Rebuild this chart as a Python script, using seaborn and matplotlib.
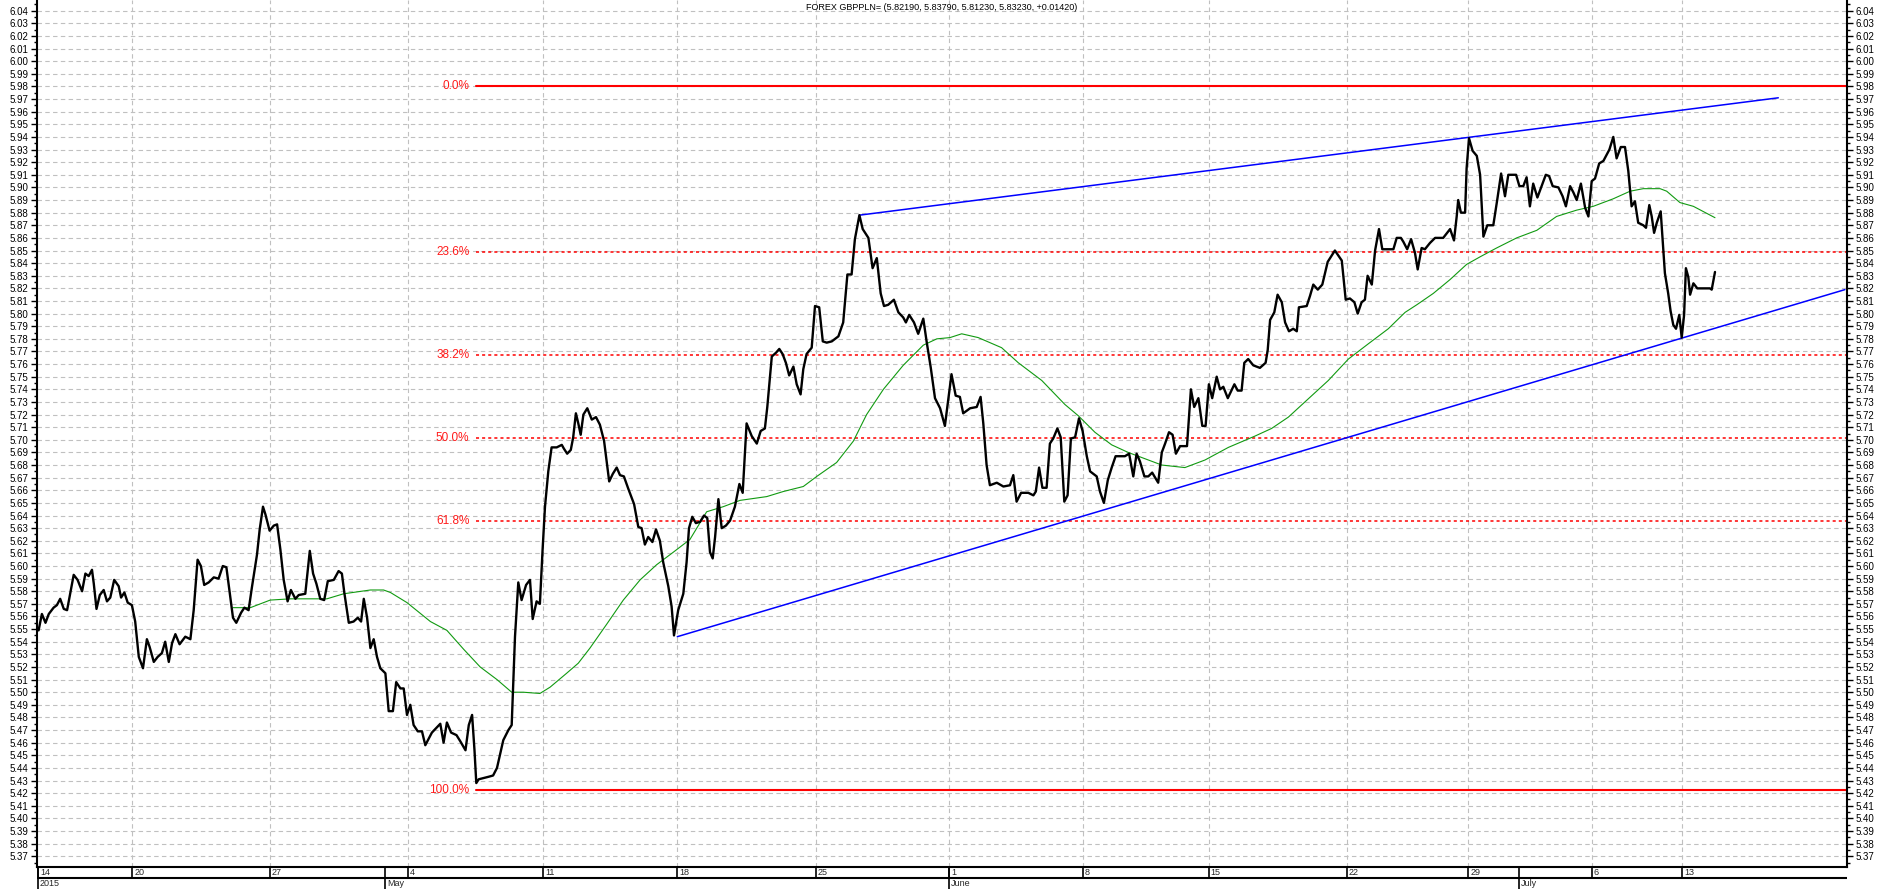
import numpy as np
import pandas as pd
import seaborn as sns
import matplotlib.pyplot as plt
from matplotlib.ticker import MultipleLocator, FormatStrFormatter
from matplotlib.transforms import offset_copy

title = 'FOREX GBPPLN= (5.82190, 5.83790, 5.81230, 5.83230, +0.01420)'

price_bar = [
    0.2, 1.3, 2.5, 3.6, 5.2, 6.3, 7.4, 8.6, 9.7, 10.8, 11.9, 13.2, 14.7, 15.8, 16.9, 18.0,
    18.6, 19.5, 20.6, 21.9, 23.0, 24.1, 25.4, 26.9, 27.7, 28.8, 29.9, 31.3, 32.4, 33.6, 35.0,
    36.3, 37.2, 38.6, 39.9, 41.3, 42.4, 43.6, 44.7, 45.8, 47.2, 49.1, 50.8, 51.9, 53.2, 54.3,
    55.4, 56.9, 58.6, 60.2, 61.6, 62.8, 63.9, 65.0, 66.1, 67.7, 68.8, 70.2, 71.3, 73.0, 73.9,
    75.0, 75.8, 77.2, 78.6, 79.7, 80.8, 81.9, 83.2, 84.3, 85.8, 86.9, 89.1, 90.6, 91.7, 92.8,
    94.1, 95.4, 96.6, 98.6, 100.2, 101.3, 102.1, 103.6, 105.2, 106.6, 107.7, 108.6, 109.7,
    110.8, 111.9, 113.0, 114.1, 115.8, 116.9, 118.3, 119.4, 120.8, 121.9, 123.0, 124.1, 125.2,
    126.6, 128.0, 129.1, 131.3, 134.1, 135.2, 136.3, 137.7, 139.5, 140.8, 142.5, 143.6, 144.7,
    145.5, 146.1, 146.9, 148.6, 150.2, 151.7, 153.0,
    155.1, 156.8, 157.9, 158.4, 159.0, 160.1, 161.2, 162.7, 164.0, 164.9, 166.2, 167.3, 168.2,
    169.0, 170.1, 171.2, 172.9, 174.6, 175.3, 176.4, 177.6, 178.4, 179.3, 180.1, 180.9, 181.8,
    183.1, 184.6, 186.0, 187.3, 188.7, 189.6, 190.4, 191.6, 192.9, 194.0, 195.3, 196.8, 198.7,
    200.1, 201.2, 202.3, 203.4, 204.8, 206.0, 207.3, 208.4, 210.1, 211.2, 212.0, 213.4, 215.1,
    216.2, 217.0, 218.1, 219.3, 220.7, 222.0, 223.1, 224.0, 224.9, 225.7, 226.8, 227.9, 229.3,
    230.7, 232.3, 233.8, 234.9, 236.2, 237.9, 239.6, 240.9, 242.3, 243.1, 244.6, 246.0, 247.1,
    248.2, 249.3, 250.4, 251.8, 252.9, 254.2, 255.1, 256.2, 257.9, 259.0, 260.4, 261.6, 262.9,
    264.6, 266.8, 268.4, 269.8, 271.2, 272.3, 273.8, 274.9, 276.8, 278.2, 279.6, 280.9, 282.0,
    283.4, 285.3, 286.8, 288.4, 289.3, 290.4, 292.0, 293.4, 295.1, 296.2, 297.6, 299.0, 300.7,
    302.3, 303.1,
    304.5, 305.9, 307.3, 308.4, 310.7, 312.9, 314.2, 315.1, 316.2, 317.3, 319.6, 321.8, 324.0,
    325.1, 326.2, 327.7, 330.1, 331.8, 332.6, 333.7, 334.8, 336.2, 337.3, 338.4, 339.8, 340.9,
    342.1, 343.2, 344.3, 345.7, 347.0, 348.2, 349.6, 350.7, 352.9, 354.0, 355.3, 356.6, 357.9,
    359.2, 362.3, 363.7, 365.1, 366.2, 367.3, 368.8, 370.1, 371.4, 373.4, 374.6, 375.7, 377.0,
    378.2, 379.3, 380.7, 383.0, 384.3, 385.4, 386.8, 388.1, 389.2, 390.3, 391.4, 392.9, 394.0,
    395.1, 396.6, 398.8, 399.9, 401.2, 402.1, 403.4, 405.1, 407.3, 409.2, 409.9, 410.7, 412.1,
    413.2, 414.6, 415.7, 417.0, 418.4, 419.6, 420.3, 422.9, 424.0, 425.1, 426.6, 428.1, 429.9,
    432.3, 434.6, 435.9, 437.3, 438.8, 439.9, 441.2, 442.3, 443.2, 444.6, 445.7, 447.0, 448.1,
    450.1, 451.8, 452.9, 454.3,
    455.1, 456.4, 457.7, 459.0, 459.9, 461.2, 462.3, 464.0, 465.7, 468.4, 470.7, 472.0, 472.9,
    473.4, 474.3, 475.7, 476.2, 477.0, 478.2, 479.6, 480.7, 481.8, 483.1, 485.1, 486.4, 487.7,
    489.0, 490.1, 492.7, 493.8, 495.1, 496.2, 497.3, 498.4, 499.8, 501.2, 502.6, 503.7, 504.9,
    506.8, 508.2, 509.3, 510.7, 511.8, 512.9, 514.3, 515.7, 516.8, 517.9, 519.0, 520.4, 521.8,
    523.8, 525.1, 526.2, 527.6, 529.0, 530.1, 531.2, 532.3, 533.4, 535.1, 536.0, 537.1, 537.9,
    538.7, 539.6, 540.9, 541.6, 542.3, 543.4, 544.2, 545.1, 546.0, 547.1, 547.9, 548.7, 549.3,
    550.1, 550.7, 551.8, 553.1, 557.3, 557.9, 559.0,
]
price = [
    5.549, 5.562, 5.555, 5.562, 5.567, 5.569, 5.574, 5.566, 5.565, 5.579, 5.593, 5.589, 5.580,
    5.594, 5.592, 5.597, 5.586, 5.566, 5.577, 5.581, 5.572, 5.575, 5.589, 5.584, 5.575, 5.579,
    5.571, 5.569, 5.556, 5.528, 5.519, 5.542, 5.536, 5.524, 5.528, 5.531, 5.540, 5.524, 5.539,
    5.546, 5.538, 5.544, 5.542, 5.565, 5.605, 5.600, 5.585, 5.587, 5.591, 5.590, 5.600, 5.599,
    5.579, 5.559, 5.555, 5.563, 5.567, 5.565, 5.583, 5.609, 5.629, 5.647, 5.641, 5.628, 5.632,
    5.633, 5.613, 5.589, 5.572, 5.581, 5.574, 5.577, 5.578, 5.612, 5.594, 5.586, 5.574, 5.573,
    5.588, 5.589, 5.596, 5.594, 5.579, 5.555, 5.556, 5.559, 5.556, 5.574, 5.559, 5.535, 5.542,
    5.528, 5.519, 5.515, 5.485, 5.485, 5.508, 5.503, 5.503, 5.482, 5.490, 5.474, 5.469, 5.469,
    5.458, 5.468, 5.475, 5.460, 5.476, 5.468, 5.466, 5.461, 5.454, 5.474, 5.482, 5.454, 5.428,
    5.431, 5.432, 5.433, 5.434, 5.440,
    5.462, 5.470, 5.474, 5.506, 5.544, 5.587, 5.573, 5.585, 5.589, 5.558, 5.572, 5.570, 5.613,
    5.647, 5.675, 5.694, 5.694, 5.696, 5.693, 5.689, 5.692, 5.702, 5.721, 5.713, 5.704, 5.720,
    5.725, 5.716, 5.718, 5.712, 5.699, 5.682, 5.667, 5.673, 5.678, 5.672, 5.671, 5.661, 5.649,
    5.631, 5.630, 5.617, 5.623, 5.619, 5.629, 5.620, 5.603, 5.584, 5.568, 5.545, 5.565, 5.578,
    5.603, 5.630, 5.639, 5.634, 5.635, 5.640, 5.638, 5.611, 5.606, 5.623, 5.653, 5.630, 5.632,
    5.636, 5.647, 5.665, 5.658, 5.713, 5.703, 5.697, 5.707, 5.709, 5.726, 5.766, 5.769, 5.772,
    5.768, 5.761, 5.751, 5.758, 5.744, 5.736, 5.756, 5.768, 5.773, 5.806, 5.805, 5.778, 5.777,
    5.778, 5.782, 5.793, 5.831, 5.831, 5.859, 5.878, 5.867, 5.860, 5.836, 5.844, 5.816, 5.806,
    5.807, 5.811, 5.801, 5.797, 5.793, 5.799, 5.793, 5.784, 5.796, 5.778, 5.757, 5.733, 5.725,
    5.711, 5.726,
    5.752, 5.735, 5.734, 5.721, 5.725, 5.726, 5.734, 5.713, 5.680, 5.664, 5.666, 5.663, 5.664,
    5.672, 5.651, 5.658, 5.658, 5.656, 5.659, 5.678, 5.662, 5.662, 5.697, 5.701, 5.709, 5.702,
    5.651, 5.656, 5.701, 5.702, 5.717, 5.707, 5.687, 5.675, 5.671, 5.659, 5.650, 5.668, 5.678,
    5.687, 5.687, 5.689, 5.671, 5.689, 5.683, 5.671, 5.671, 5.674, 5.666, 5.690, 5.697, 5.706,
    5.704, 5.689, 5.695, 5.695, 5.740, 5.726, 5.733, 5.711, 5.711, 5.744, 5.733, 5.750, 5.740,
    5.742, 5.733, 5.744, 5.739, 5.739, 5.761, 5.764, 5.759, 5.757, 5.761, 5.771, 5.795, 5.801,
    5.815, 5.809, 5.793, 5.786, 5.788, 5.786, 5.805, 5.806, 5.814, 5.823, 5.819, 5.823, 5.841,
    5.850, 5.842, 5.811, 5.812, 5.809, 5.800, 5.809, 5.811, 5.830, 5.823, 5.850, 5.867, 5.851,
    5.851, 5.851, 5.860, 5.860,
    5.857, 5.851, 5.859, 5.848, 5.835, 5.852, 5.851, 5.856, 5.860, 5.860, 5.867, 5.858, 5.877,
    5.890, 5.880, 5.880, 5.915, 5.939, 5.929, 5.925, 5.910, 5.861, 5.870, 5.870, 5.890, 5.911,
    5.893, 5.910, 5.910, 5.901, 5.901, 5.908, 5.885, 5.903, 5.892, 5.901, 5.910, 5.909, 5.901,
    5.900, 5.893, 5.885, 5.901, 5.896, 5.890, 5.903, 5.884, 5.877, 5.905, 5.907, 5.919, 5.921,
    5.930, 5.940, 5.923, 5.932, 5.932, 5.913, 5.885, 5.889, 5.872, 5.870, 5.868, 5.886, 5.877,
    5.864, 5.872, 5.881, 5.856, 5.832, 5.816, 5.802, 5.791, 5.788, 5.799, 5.781, 5.799, 5.836,
    5.829, 5.815, 5.824, 5.820, 5.820, 5.819, 5.833,
]

# moving average (green)
ma_bar = [
    65.0, 70.8, 77.4, 84.1, 96.3, 101.9, 110.8, 115.2, 117.5, 123.0, 130.8, 136.3, 141.9,
    147.4, 153.0, 157.9, 161.8, 167.3, 170.7, 176.2, 180.1, 184.0, 189.6, 195.1, 200.7,
    206.2, 211.8, 217.3, 222.9, 228.4, 234.0, 242.9, 248.4, 255.1, 259.6, 266.2, 271.8,
    276.2, 281.8, 288.4, 295.1, 299.6, 304.0, 307.9, 313.4, 321.2, 326.8, 334.6, 342.3,
    346.8, 352.3, 357.9, 363.4, 369.0, 374.6, 382.3, 389.0, 396.8, 405.7, 411.2, 416.8,
    422.3, 430.1, 436.8, 443.4, 450.1, 455.7, 459.6, 465.1, 470.7, 476.2, 480.7, 486.2,
    492.9, 499.6, 506.2, 512.9, 518.4, 525.1, 530.7, 535.1, 540.7, 542.9, 547.3, 551.8, 559.0,
]
ma = [
    5.567, 5.567, 5.573, 5.574, 5.574, 5.578, 5.581, 5.581, 5.579, 5.571, 5.556, 5.549, 5.534,
    5.520, 5.510, 5.500, 5.500, 5.499, 5.504, 5.515, 5.523, 5.535, 5.554, 5.573, 5.589,
    5.601, 5.611, 5.621, 5.643, 5.647, 5.652, 5.655, 5.659, 5.663, 5.671, 5.682, 5.699,
    5.720, 5.740, 5.759, 5.775, 5.780, 5.781, 5.784, 5.781, 5.773, 5.761, 5.747, 5.728,
    5.719, 5.706, 5.696, 5.690, 5.685, 5.680, 5.678, 5.684, 5.694, 5.703, 5.709, 5.718,
    5.730, 5.747, 5.764, 5.776, 5.788, 5.801, 5.807, 5.816, 5.827, 5.839, 5.845, 5.852,
    5.860, 5.866, 5.877, 5.882, 5.885, 5.891, 5.897, 5.899, 5.899, 5.897, 5.888, 5.885, 5.876,
]

# trend lines (blue), end points
upper_bar = [273.8, 580.1]
upper_val = [5.878, 5.971]
lower_bar = [213.1, 602.3]
lower_val = [5.544, 5.819]

# fibonacci retracement (red)
fib_low = 5.4225
fib_high = 5.98
fib_ratios = [0.0, 0.236, 0.382, 0.5, 0.618, 1.0]
fib_start = 146.1

week_bar = [0, 31.5, 77.3, 123.2, 168.5, 213.1, 259.2, 303.7, 348.2, 390.2, 436.3, 476.8, 517.9, 548.1]
week_label = ['14', '20', '27', '4', '11', '18', '25', '1', '8', '15', '22', '29', '6', '13']
month_bar = [0, 115.7, 303.7, 493.7]
month_label = ['2015', 'May', 'June', 'July']

xlim = (-0.33, 603.0)
ylim = (5.3615, 6.0485)

sns.set_theme(style='white')
plt.rcParams['font.family'] = ['Liberation Sans', 'DejaVu Sans']

W, H = 1883, 889
fig = plt.figure(figsize=(W / 100, H / 100), dpi=100)
L, R, B = 37 / W, 1847 / W, 22 / H
ax = fig.add_axes([L, B, R - L, 1 - B])
dax = fig.add_axes([L, 0, R - L, B])

ax.set_xlim(*xlim)
ax.set_ylim(*ylim)
ax.set_axisbelow(True)

# fib levels
for r in fib_ratios:
    lvl = fib_high - r * (fib_high - fib_low)
    solid = r in (0.0, 1.0)
    ax.plot([fib_start, xlim[1]], [lvl, lvl], color='#ff0000',
            lw=1.5 if solid else 1.1,
            ls='-' if solid else (0, (2, 2)), zorder=2)
    ax.annotate('%.1f%%' % (r * 100), xy=(fib_start, lvl), xytext=(-7, 0),
                textcoords='offset pixels', ha='right', va='center',
                color='#ff1a1a', fontsize=8.5)

ax.plot(upper_bar, upper_val, color='#0000ff', lw=1.1, zorder=3)
ax.plot(lower_bar, lower_val, color='#0000ff', lw=1.1, zorder=3)

df_ma = pd.DataFrame({'bar': ma_bar, 'value': ma})
sns.lineplot(data=df_ma, x='bar', y='value', ax=ax, color='#119a11',
             linewidth=0.8, estimator=None, sort=False, zorder=3)

df = pd.DataFrame({'bar': price_bar, 'value': price})
sns.lineplot(data=df, x='bar', y='value', ax=ax, color='black',
             linewidth=1.7, estimator=None, sort=False, zorder=4)

ax.set(xlabel='', ylabel='')
ax.set_xticks(week_bar[1:])
ax.set_xticklabels([])
ax.tick_params(axis='x', length=0)

ax.yaxis.set_major_locator(MultipleLocator(0.01))
ax.yaxis.set_minor_locator(MultipleLocator(0.005))
ax.yaxis.set_major_formatter(FormatStrFormatter('%.2f'))
ax.tick_params(axis='y', which='both', left=True, right=True, labelleft=True,
               labelright=True, direction='out', colors='black', labelsize=7, pad=2)
ax.tick_params(axis='y', which='major', length=4, width=1)
ax.tick_params(axis='y', which='minor', length=2, width=1)
ax.grid(True, which='major', color='#c0c0c0', linestyle=(0, (4, 3)), linewidth=0.8)

ax.spines['top'].set_visible(False)
for s in ('left', 'right', 'bottom'):
    ax.spines[s].set_color('black')
    ax.spines[s].set_linewidth(1.5)

ax.text(0.5, 1 - 7 / 867, title, transform=ax.transAxes, ha='center',
        va='center', fontsize=6.5, color='black')

# date strip under the chart
dax.set_xlim(*xlim)
dax.set_ylim(0, 2)
dax.axis('off')
dax.axhline(1, color='black', lw=1.5)
dax.vlines(week_bar, 1, 2, color='black', lw=1.2)
dax.vlines(month_bar, 0, 2, color='black', lw=1.2)
shift = offset_copy(dax.transData, fig=fig, x=2, y=0, units='dots')
for b, lab in zip(week_bar, week_label):
    dax.text(b, 1.5, lab, transform=shift, ha='left', va='center', fontsize=6.5)
for b, lab in zip(month_bar, month_label):
    dax.text(b, 0.5, lab, transform=shift, ha='left', va='center', fontsize=6.5)

fig.savefig('out.png', dpi=100)
